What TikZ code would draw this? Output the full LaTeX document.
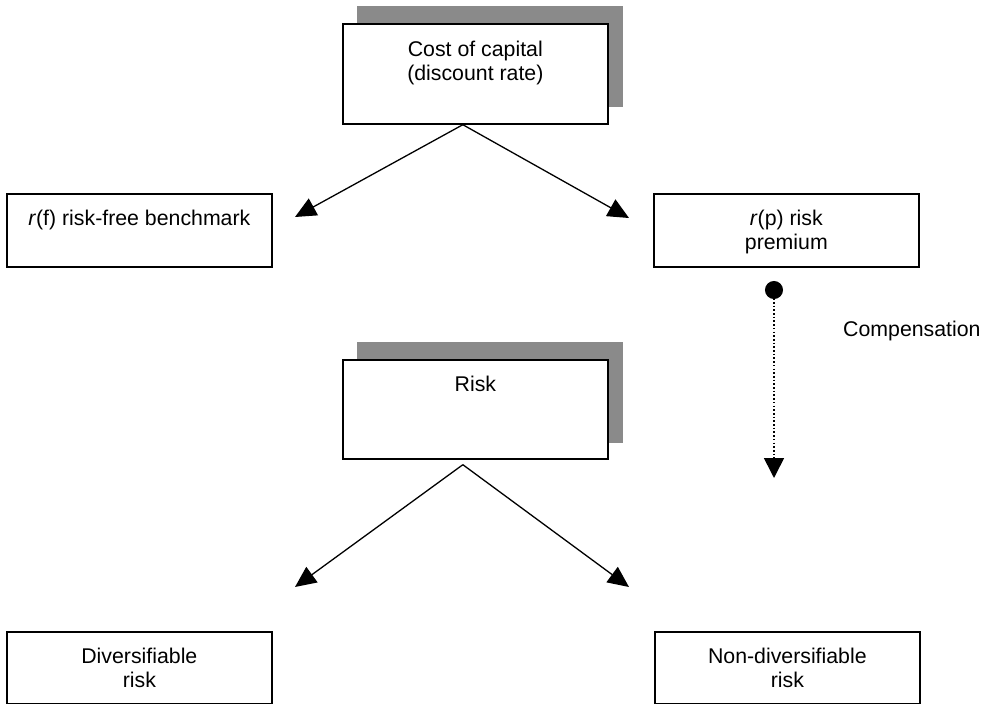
\documentclass[tikz,border=0pt]{standalone}
\usepackage{fontspec}
\setmainfont{Liberation Sans}
\usetikzlibrary{arrows.meta,calc}
\definecolor{shadowgray}{RGB}{138,138,138}
\begin{document}
\begin{tikzpicture}[x=1pt,y=-1pt,
  font=\fontsize{21.3}{23.5}\selectfont,
  box/.style={draw=black,line width=1.7pt,fill=white,rectangle,inner sep=0pt,
              anchor=north west,minimum width=265pt},
  shade/.style={fill=shadowgray,draw=none,rectangle,inner sep=0pt,
              anchor=north west,minimum width=266pt,minimum height=101pt},
  lbl/.style={align=center,inner sep=0pt,anchor=north},
  link/.style={line width=1.3pt,-{Triangle[length=21pt,width=19pt]}},
  comp/.style={line width=1.6pt,dash pattern=on 1.6pt off 2.1pt,
               {Circle[length=18pt]}-{Triangle[length=20pt,width=20pt]}}
]
\useasboundingbox (0,0) rectangle (986,704);

% boxes with drop shadows
\node[shade] (costshade) at (357,6) {};
\node[box,minimum height=100pt] (cost) at (342,23) {};
\node[lbl] (costtext) at ($(cost.north)+(0,18)$) {Cost of capital\\(discount rate)};

\node[box,minimum height=73pt] (rf) at (6,193) {};
\node[lbl] (rftext) at ($(rf.north)+(0,17)$) {\textit{r}(f) risk-free benchmark};

\node[box,minimum height=73pt] (rp) at (653,193) {};
\node[lbl] (rptext) at ($(rp.north)+(0,17)$) {\textit{r}(p) risk\\premium};

\node[shade] (riskshade) at (357,342) {};
\node[box,minimum height=99pt] (risk) at (342,359) {};
\node[lbl] (risktext) at ($(risk.north)+(0,17)$) {Risk};

\node[box,minimum height=72pt] (div) at (6,631) {};
\node[lbl] (divtext) at ($(div.north)+(0,17)$) {Diversifiable\\risk};

\node[box,minimum height=72pt] (nondiv) at (654,631) {};
\node[lbl] (nondivtext) at ($(nondiv.north)+(0,17)$) {Non-diversifiable\\risk};

% connector end points
\coordinate (apexA) at ($(cost.south)+(-12.5,0)$);
\coordinate (tipRF) at (295,217);
\coordinate (tipRP) at (629,218);
\coordinate (apexB) at ($(risk.south)+(-12.5,5)$);
\coordinate (tipDIV) at (295,587);
\coordinate (tipNON) at (629,587);
\coordinate (dotC) at (774,281);
\coordinate (tipC) at (774,478);

\draw[link] (apexA) -- (tipRF);
\draw[link] (apexA) -- (tipRP);
\draw[link] (apexB) -- (tipDIV);
\draw[link] (apexB) -- (tipNON);

\draw[comp] (dotC) -- (tipC);
\node[anchor=base west,inner sep=0pt] (compensation) at (843,336) {Compensation};
\end{tikzpicture}
\end{document}
